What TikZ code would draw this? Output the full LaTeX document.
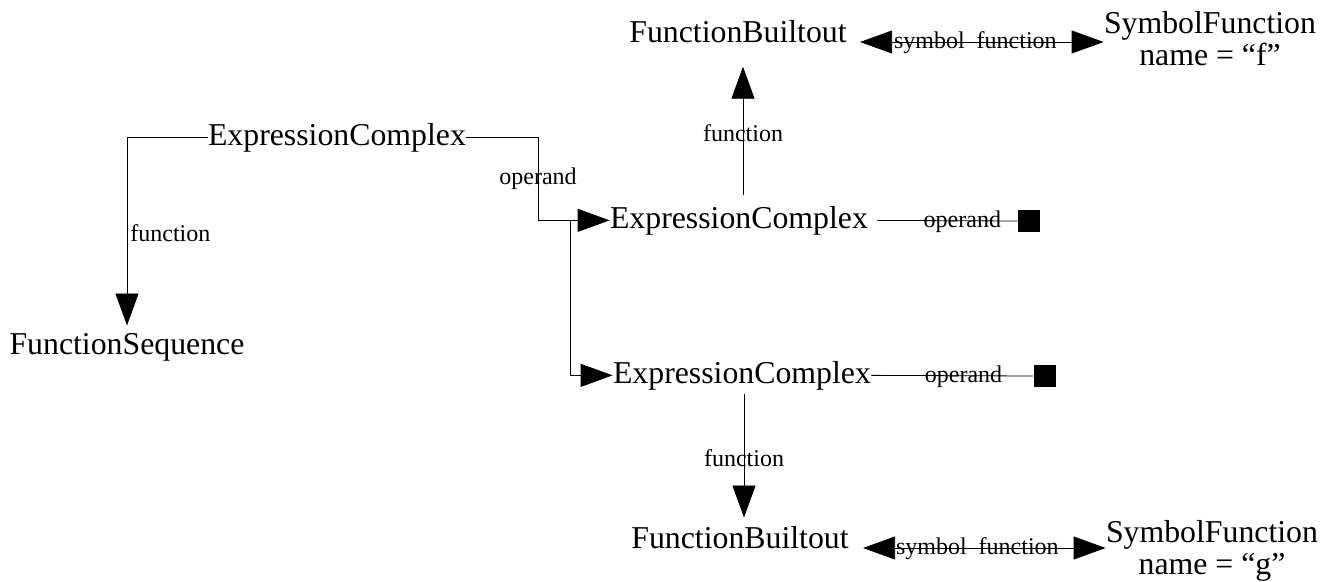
\documentclass[tikz,border=0pt]{standalone}
\usepackage{fontspec}
\setmainfont{Liberation Serif}
\usetikzlibrary{arrows.meta}
\begin{document}
\begin{tikzpicture}[x=1pt,y=-1pt,line width=0.8pt,
    cls/.style={inner sep=0pt,font=\fontsize{31.8}{32}\selectfont},
    lbl/.style={inner sep=0pt,font=\fontsize{24}{26}\selectfont},
    arr/.style={-{Triangle[length=32pt,width=23pt]}},
    dbl/.style={{Triangle[length=32pt,width=23pt]}-{Triangle[length=32pt,width=23pt]}},
    endbox/.style={fill=black,inner sep=0pt,minimum size=22pt}]
    \useasboundingbox (0,0) rectangle (1330,581);
    % classes
    \node[cls,anchor=base] (ec1) at (337,145) {ExpressionComplex};
    \node[cls,anchor=base] (fseq) at (127,354) {FunctionSequence};
    \node[cls,anchor=base] (ec2) at (739,228) {ExpressionComplex};
    \node[cls,anchor=base] (ec3) at (742,383) {ExpressionComplex};
    \node[cls,anchor=base] (fb1) at (738,42) {FunctionBuiltout};
    \node[cls,anchor=base] (fb2) at (740,548) {FunctionBuiltout};
    \node[cls,anchor=north,align=center] (sf1) at (1210,11) {SymbolFunction\\name = ``f''};
    \node[cls,anchor=north,align=center] (sf2) at (1212,520) {SymbolFunction\\name = ``g''};
    \node[endbox] (op1) at (1029,221) {};
    \node[endbox] (op2) at (1044.5,376) {};
    % links
    \coordinate (j1) at (538,0);
    \coordinate (j2) at ([xshift=-39pt]ec2.west);
    \draw[arr,shorten >=7pt] (ec1.west) -| node[lbl,pos=0.745,anchor=west,xshift=3pt]{function} (fseq.north);
    \draw[arr] (ec1.east) -| node[lbl,pos=0.75]{operand} (j1 |- ec2.west) -- (ec2.west);
    \draw[arr] (j2) |- (ec3.west);
    \draw[arr,shorten <=11pt,shorten >=24pt] ([xshift=4pt]ec2.north) -- node[lbl,pos=0.446]{function} ([xshift=4pt]ec2.north |- fb1.south);
    \draw[arr,shorten <=4pt,shorten >=8pt] ([xshift=2pt]ec3.south) -- node[lbl,midway]{function} ([xshift=2pt]ec3.south |- fb2.north);
    \draw[dbl,shorten <=13pt] (fb1.base east) -- node[lbl,midway,anchor=base,yshift=-6pt]{symbol~ function} (fb1.base east -| sf1.west);
    \draw[dbl,shorten <=14pt] (fb2.base east) -- node[lbl,midway,anchor=base,yshift=-6pt]{symbol~ function} (fb2.base east -| sf2.west);
    \draw[shorten <=9pt] (ec2.east) -- node[lbl,pos=0.63,anchor=base,yshift=-7pt]{operand} (op1.west);
    \draw (ec3.east) -- node[lbl,pos=0.57,anchor=base,yshift=-7pt]{operand} (op2.west);
    %\draw[dashed] (j1) -- (j2);
\end{tikzpicture}
\end{document}
